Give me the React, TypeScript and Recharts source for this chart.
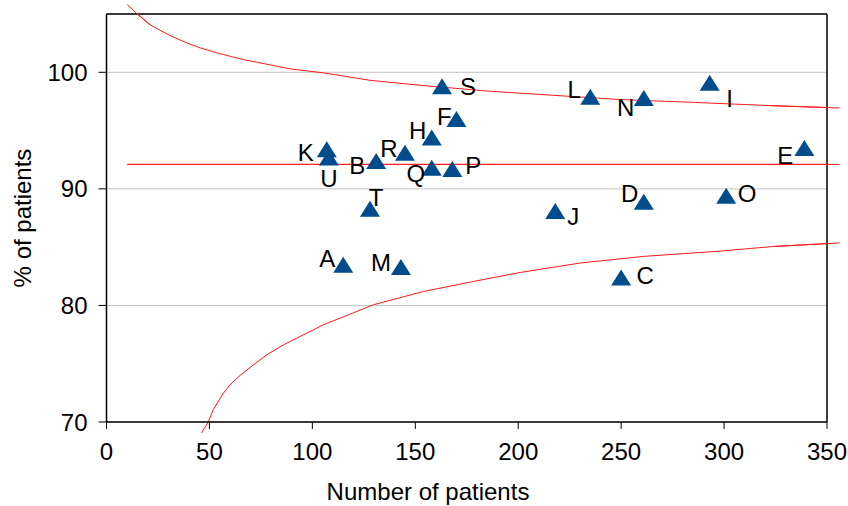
import React from "react";
import {
  ComposedChart,
  Line,
  Scatter,
  XAxis,
  YAxis,
  CartesianGrid,
  ReferenceLine,
} from "recharts";

// hospitals: label, number of patients, % of patients
const units = ["A", "B", "C", "D", "E", "F", "H", "I", "J", "K", "L", "M", "N", "O", "P", "Q", "R", "S", "T", "U"];
const patients = [115, 131, 250, 261, 339, 170, 158, 293, 218, 107, 235, 143, 261, 301, 168, 158, 145, 163, 128, 108];
const percent = [83.5, 92.4, 82.4, 88.9, 93.5, 96.0, 94.4, 99.1, 88.1, 93.4, 97.9, 83.3, 97.8, 89.4, 91.7, 91.8, 93.1, 98.8, 88.3, 92.7];

// control limits
const upperX = [10.1, 14.7, 21.1, 26.0, 30.9, 39.0, 45.5, 53.6, 60.1, 66.5, 73.0, 81.1, 89.2, 105.4, 128.1, 153.9, 186.4, 249.6, 285.1, 322.5, 356.1];
const upperY = [105.81, 105.04, 104.09, 103.6, 103.15, 102.52, 102.09, 101.67, 101.37, 101.09, 100.86, 100.58, 100.29, 99.95, 99.31, 98.86, 98.37, 97.66, 97.42, 97.14, 96.94];
const lowerX = [46.2, 49.5, 51.9, 56.8, 60.0, 64.9, 71.4, 77.9, 86.0, 92.5, 105.4, 118.4, 129.7, 154.0, 178.3, 201.0, 230.2, 261.0, 296.6, 324.2, 356.1];
const lowerY = [69.07, 70.04, 71.07, 72.48, 73.19, 74.0, 74.91, 75.77, 76.62, 77.2, 78.34, 79.26, 80.06, 81.2, 82.06, 82.83, 83.64, 84.21, 84.64, 85.06, 85.36];
const centerX = [10.1, 356.1];
const centerY = [92.1, 92.1];

const xTicks = [0, 50, 100, 150, 200, 250, 300, 350];
const yTicks = [70, 80, 90, 100];
const X_DOMAIN: [number, number] = [0, 350];
const Y_DOMAIN: [number, number] = [70, 105];

// where each letter sits relative to its marker
const labelOffset: Record<string, [number, number]> = {
  S: [26, 0], F: [-12, -3], H: [-14, -7], K: [-21, 3], U: [0, 21],
  B: [-19, 4], R: [-16, -4], Q: [-16, 5], P: [21, -4], T: [6, -11],
  A: [-16, -6], M: [-20, -5], L: [-16, -7], N: [-18, 9], I: [20, 16],
  E: [-19, 7], D: [-14, -8], O: [21, -2], J: [18, 5], C: [24, -2],
};

const FONT = "'Liberation Sans', Arial, sans-serif";
const BLUE = "#004C8C";
const RED = "#FF1A1A";

const points = units.map((u, i) => ({ name: u, x: patients[i], y: percent[i] }));
const toSeries = (xs: number[], ys: number[]) => xs.map((x, i) => ({ x, y: ys[i] }));
const upper = toSeries(upperX, upperY);
const lower = toSeries(lowerX, lowerY);
const center = toSeries(centerX, centerY);

const outside = (p: { x: number; y: number }) =>
  p.x < X_DOMAIN[0] || p.x > X_DOMAIN[1] || p.y < Y_DOMAIN[0] || p.y > Y_DOMAIN[1];

// pieces of the limit lines that run past the plot frame
const overflowSegments = [upper, lower, center].flatMap((s) =>
  s.slice(1)
    .map((p, i) => [s[i], p])
    .filter(([a, b]) => outside(a) || outside(b))
);

const Marker = (props: any) => {
  const { cx, cy, payload } = props;
  if (cx == null || cy == null) return null;
  const [dx, dy] = labelOffset[payload.name] ?? [0, 0];
  return (
    <g>
      <polygon
        points={`${cx},${cy - 8} ${cx + 10},${cy + 8} ${cx - 10},${cy + 8}`}
        fill={BLUE}
      />
      <text
        x={cx + dx}
        y={cy + dy}
        dy="0.36em"
        textAnchor="middle"
        fontSize={24}
        fontFamily={FONT}
        fill="#000"
      >
        {payload.name}
      </text>
    </g>
  );
};

const yTitle = () => (
  <text
    x={22}
    y={218}
    transform="rotate(-90 22 218)"
    dy="0.36em"
    textAnchor="middle"
    fontSize={24}
    fontFamily={FONT}
    fill="#000"
  >
    % of patients
  </text>
);

const xTitle = () => (
  <text x={428} y={491} dy="0.36em" textAnchor="middle" fontSize={24} fontFamily={FONT} fill="#000">
    Number of patients
  </text>
);

export default function App() {
  return (
    <div style={{ position: "absolute", left: 0, top: 0, background: "#fff", fontFamily: FONT }}>
      <ComposedChart width={848} height={506} margin={{ top: 14, right: 21, bottom: 24, left: 0 }}>
        <CartesianGrid vertical={false} stroke="#c4c4c4" />
        <XAxis
          type="number"
          dataKey="x"
          domain={X_DOMAIN}
          ticks={xTicks}
          allowDataOverflow
          height={60}
          tickSize={7}
          tickMargin={14}
          axisLine={{ stroke: "#000", strokeWidth: 1.5 }}
          tickLine={{ stroke: "#000" }}
          tick={{ fontSize: 24, fill: "#000", fontFamily: FONT }}
          label={xTitle}
        />
        <YAxis
          type="number"
          dataKey="y"
          domain={Y_DOMAIN}
          ticks={yTicks}
          allowDataOverflow
          width={106.5}
          tickSize={8}
          tickMargin={11}
          axisLine={{ stroke: "#000", strokeWidth: 1.5 }}
          tickLine={{ stroke: "#000" }}
          tick={{ fontSize: 24, fill: "#000", fontFamily: FONT }}
          label={yTitle}
        />
        <ReferenceLine y={105} stroke="#000" strokeWidth={1.5} />
        <ReferenceLine x={350} stroke="#000" strokeWidth={1.5} />
        <Line data={upper} dataKey="y" type="linear" stroke={RED} strokeWidth={1} dot={false} isAnimationActive={false} />
        <Line data={lower} dataKey="y" type="linear" stroke={RED} strokeWidth={1} dot={false} isAnimationActive={false} />
        <Line data={center} dataKey="y" type="linear" stroke={RED} strokeWidth={1} dot={false} isAnimationActive={false} />
        {overflowSegments.map(([a, b], i) => (
          <ReferenceLine
            key={i}
            segment={[a, b]}
            ifOverflow="visible"
            stroke={RED}
            strokeWidth={1}
          />
        ))}
        <Scatter data={points} dataKey="y" shape={Marker} isAnimationActive={false} />
      </ComposedChart>
    </div>
  );
}
